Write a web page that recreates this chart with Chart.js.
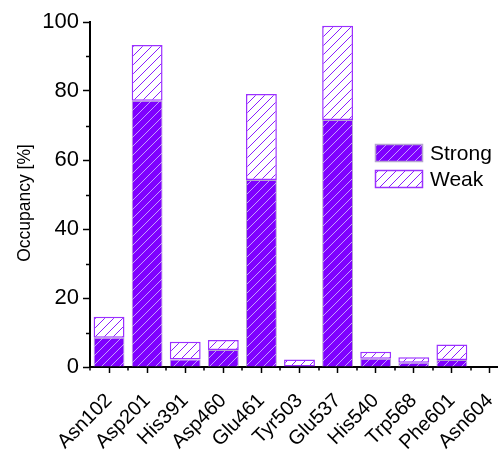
<!DOCTYPE html>
<html>
<head>
<meta charset="utf-8">
<script src="https://cdn.jsdelivr.net/npm/chart.js@4.4.0/dist/chart.umd.min.js"></script>
<style>
    html, body { margin: 0; padding: 0; background: #fff; overflow: hidden; }
    #wrap { width: 512px; height: 451px; }
</style>
</head>
<body>
<div id="wrap"><canvas id="chart"></canvas></div>
<script>
// Residue categories and occupancy values
const residues = ['Asn102', 'Asp201', 'His391', 'Asp460', 'Glu461', 'Tyr503', 'Glu537', 'His540', 'Trp568', 'Phe601', 'Asn604'];
const strongValues = [8.5, 77.2, 2.2, 4.9, 54.2, 0, 71.6, 2.4, 1.2, 2.0, 0];
const weakValues = [6.1, 16.1, 5.1, 2.9, 24.9, 2.2, 27.3, 2.0, 1.6, 4.5, 0];
const yTicks = [0, 20, 40, 60, 80, 100];

const FONT = '"Liberation Sans", Arial, sans-serif';

// Diagonal hatch pattern
function makeHatch(bg, line) {
    const s = 9;
    const c = document.createElement('canvas');
    c.width = s; c.height = s;
    const g = c.getContext('2d');
    if (bg) { g.fillStyle = bg; g.fillRect(0, 0, s, s); }
    g.strokeStyle = line;
    g.lineWidth = 1;
    g.beginPath();
    g.moveTo(-1, s + 1); g.lineTo(s + 1, -1);
    g.moveTo(-2, 2); g.lineTo(2, -2);
    g.moveTo(s - 2, s + 2); g.lineTo(s + 2, s - 2);
    g.stroke();
    return g.createPattern(c, 'repeat');
}

const strongFill = makeHatch('#7f00ff', '#c49bff');
const weakFill = makeHatch('#ffffff', '#8a1cff');

// Minor ticks, y title and legend drawn on top
const extrasPlugin = {
    id: 'extras',
    afterDraw(chart) {
        const ctx = chart.ctx;
        const x = chart.scales.x, y = chart.scales.y;
        const area = chart.chartArea;
        ctx.save();
        ctx.strokeStyle = '#000';
        ctx.lineWidth = 1.5;
        ctx.beginPath();
        // minor y ticks (odd tens)
        for (let v = 10; v < 100; v += 20) {
            const py = Math.round(y.getPixelForValue(v)) + 0.5;
            ctx.moveTo(area.left - 4, py); ctx.lineTo(area.left, py);
        }
        // minor x ticks at category boundaries
        for (let i = 0; i <= residues.length; i++) {
            const px = Math.round(x.getPixelForValue(i - 0.5));
            ctx.moveTo(px, area.bottom); ctx.lineTo(px, area.bottom + 3.5);
        }
        ctx.stroke();

        // y axis title
        ctx.save();
        ctx.translate(25.5, 203);
        ctx.rotate(-Math.PI / 2);
        ctx.font = '17.5px ' + FONT;
        ctx.fillStyle = '#000';
        ctx.textAlign = 'center';
        ctx.textBaseline = 'middle';
        ctx.fillText('Occupancy [%]', 0, 0);
        ctx.restore();

        // legend
        const items = [
            { label: 'Strong', fill: strongFill, border: '#b5a3cf' },
            { label: 'Weak', fill: weakFill, border: '#9b30ff' }
        ];
        ctx.font = '21px ' + FONT;
        ctx.textBaseline = 'middle';
        ctx.textAlign = 'left';
        items.forEach((it, i) => {
            const top = 144 + i * 26;
            ctx.fillStyle = it.fill;
            ctx.fillRect(375, top, 48, 18);
            ctx.strokeStyle = it.border;
            ctx.lineWidth = 1.5;
            ctx.strokeRect(375.5, top + 0.5, 47, 17);
            ctx.fillStyle = '#000';
            ctx.fillText(it.label, 430, top + 10);
        });
        ctx.restore();
    }
};

new Chart(document.getElementById('chart'), {
    type: 'bar',
    data: {
        labels: residues,
        datasets: [
            {
                label: 'Strong',
                data: strongValues,
                backgroundColor: strongFill,
                borderColor: '#b5a3cf',
                borderWidth: 1,
                borderSkipped: 'start'
            },
            {
                label: 'Weak',
                data: weakValues,
                backgroundColor: weakFill,
                borderColor: '#9b30ff',
                borderWidth: 1.5,
                borderSkipped: false
            }
        ]
    },
    options: {
        responsive: true,
        maintainAspectRatio: false,
        animation: false,
        events: [],
        layout: { padding: { top: 22, right: 3, left: 0, bottom: 0 } },
        plugins: {
            legend: { display: false },
            tooltip: { enabled: false }
        },
        datasets: {
            bar: { categoryPercentage: 1, barPercentage: 0.81 }
        },
        scales: {
            x: {
                stacked: true,
                offset: true,
                grid: {
                    offset: false,
                    drawOnChartArea: false,
                    tickLength: 6,
                    tickWidth: 1.5,
                    tickColor: '#000'
                },
                border: { display: true, color: '#000', width: 2 },
                ticks: {
                    autoSkip: false,
                    minRotation: 45,
                    maxRotation: 45,
                    padding: 16,
                    color: '#000',
                    font: { family: FONT, size: 20 }
                },
                afterFit(scale) {
                    scale.height = 84;
                    scale.paddingLeft = 0;
                    scale.paddingRight = 0;
                }
            },
            y: {
                stacked: true,
                min: 0,
                max: 100,
                grid: {
                    drawOnChartArea: false,
                    tickLength: 7,
                    tickWidth: 1.5,
                    tickColor: ctx => (yTicks.includes(ctx.tick && ctx.tick.value) ? '#000' : 'rgba(0,0,0,0)')
                },
                border: { display: true, color: '#000', width: 2 },
                ticks: {
                    stepSize: 10,
                    padding: 4,
                    color: '#000',
                    font: { family: FONT, size: 22 },
                    callback: v => (yTicks.includes(v) ? String(v) : '')
                },
                afterFit(scale) { scale.width = 90; }
            }
        }
    },
    plugins: [extrasPlugin]
});
</script>
</body>
</html>
